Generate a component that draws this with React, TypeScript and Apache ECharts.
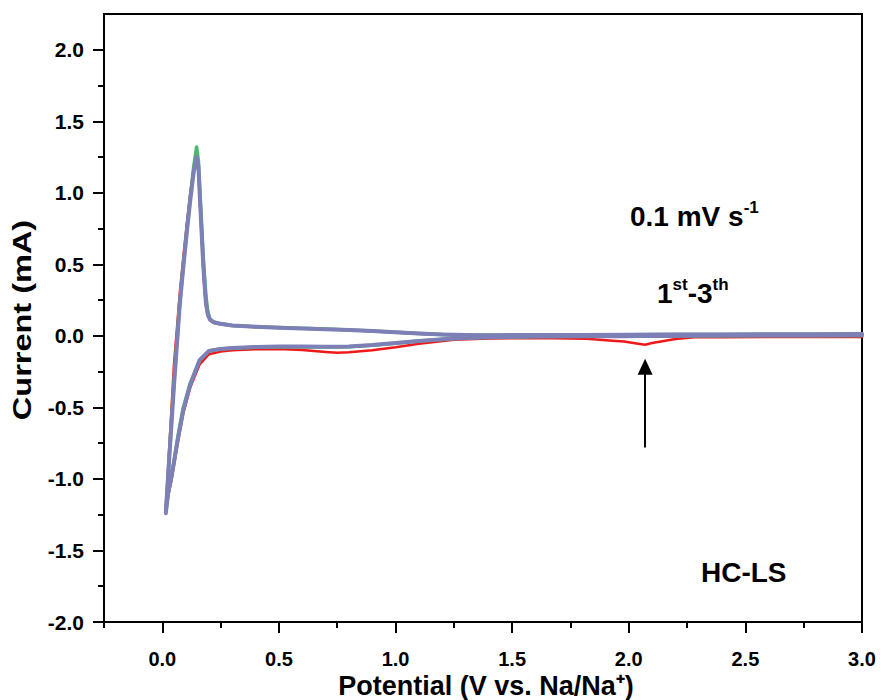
import React, { useEffect, useRef } from "react";
import * as echarts from "echarts";

// Cathodic sweep (3.0 V -> 0.01 V), potentials in V
const cathodicPotential = [
  3.0, 2.8, 2.6, 2.4, 2.28, 2.2, 2.15, 2.1, 2.07, 2.04, 1.98, 1.93, 1.82, 1.6, 1.4, 1.25, 1.1, 1.0,
  0.9, 0.8, 0.75, 0.7, 0.6, 0.5, 0.4, 0.3, 0.25, 0.2, 0.16, 0.12, 0.09, 0.067, 0.04, 0.025, 0.015,
];
// Anodic sweep (0.01 V -> 3.0 V), potentials in V
const anodicPotential = [
  0.015, 0.03, 0.05, 0.075, 0.09, 0.106, 0.12, 0.135, 0.147, 0.155, 0.161, 0.168, 0.175, 0.181,
  0.187, 0.195, 0.204, 0.22, 0.247, 0.3, 0.4, 0.5, 0.6, 0.7, 0.8, 0.9, 1.0, 1.1, 1.2, 1.3, 1.4,
  1.6, 1.8, 2.0, 2.2, 2.4, 2.6, 2.8, 3.0,
];

// Currents in mA
const cycle1Cathodic = [
  -0.008, -0.008, -0.008, -0.009, -0.01, -0.022, -0.036, -0.05, -0.062, -0.055, -0.04, -0.034,
  -0.02, -0.015, -0.018, -0.027, -0.055, -0.08, -0.1, -0.115, -0.118, -0.112, -0.098, -0.092, -0.093,
  -0.1, -0.11, -0.128, -0.2, -0.36, -0.54, -0.74, -1.0, -1.12, -1.22,
];
const cycle1Anodic = [
  -1.22, -0.78, -0.2, 0.3, 0.55, 0.8, 1.0, 1.18, 1.24, 1.14, 0.93, 0.7, 0.48, 0.33, 0.21, 0.14,
  0.11, 0.092, 0.082, 0.07, 0.062, 0.056, 0.051, 0.046, 0.04, 0.033, 0.024, 0.015, 0.008, 0.004,
  0.002, 0.001, 0.0, 0.0, 0.0, -0.001, -0.002, -0.003, -0.004,
];
const cycle2Cathodic = [
  0.003, 0.002, 0.002, 0.001, 0.001, 0.0, 0.0, -0.001, -0.001, -0.001, -0.002, -0.002, -0.003,
  -0.005, -0.01, -0.019, -0.036, -0.052, -0.066, -0.076, -0.078, -0.078, -0.077, -0.077, -0.08,
  -0.086, -0.092, -0.106, -0.17, -0.33, -0.5, -0.7, -0.98, -1.1, -1.23,
];
const cycle2Anodic = [
  -1.23, -0.83, -0.32, 0.24, 0.49, 0.75, 0.97, 1.19, 1.32, 1.22, 1.02, 0.8, 0.57, 0.42, 0.28, 0.17,
  0.12, 0.097, 0.086, 0.073, 0.064, 0.058, 0.053, 0.048, 0.042, 0.035, 0.026, 0.017, 0.01, 0.006,
  0.005, 0.006, 0.007, 0.008, 0.009, 0.01, 0.011, 0.012, 0.013,
];
const cycle3Cathodic = [
  0.004, 0.003, 0.002, 0.002, 0.001, 0.001, 0.0, 0.0, -0.001, -0.001, -0.002, -0.002, -0.003,
  -0.005, -0.01, -0.018, -0.035, -0.05, -0.064, -0.074, -0.076, -0.076, -0.075, -0.075, -0.078,
  -0.085, -0.091, -0.105, -0.17, -0.34, -0.52, -0.72, -0.98, -1.1, -1.24,
];
const cycle3Anodic = [
  -1.24, -0.85, -0.35, 0.22, 0.48, 0.74, 0.95, 1.15, 1.25, 1.18, 0.97, 0.74, 0.51, 0.36, 0.23,
  0.15, 0.115, 0.095, 0.085, 0.072, 0.063, 0.057, 0.052, 0.047, 0.041, 0.034, 0.025, 0.016, 0.009,
  0.006, 0.005, 0.006, 0.007, 0.008, 0.009, 0.01, 0.011, 0.012, 0.013,
];

const cycleNames = ["1st", "2nd", "3rd"];
const cycleColors = ["#f01818", "#4cb86a", "#7c80b6"];
const cycleWidths = [2.5, 3.5, 4];

// Axis ticks
const xMajorTicks = [0, 0.5, 1.0, 1.5, 2.0, 2.5, 3.0];
const xMinorTicks = [-0.25, 0.25, 0.75, 1.25, 1.75, 2.25, 2.75];
const yMajorTicks = [-2.0, -1.5, -1.0, -0.5, 0.0, 0.5, 1.0, 1.5, 2.0];
const yMinorTicks = [-1.75, -1.25, -0.75, -0.25, 0.25, 0.75, 1.25, 1.75];

// Arrow marking the 2.07 V reduction feature of the first cycle
const arrowPotential = 2.07;
const arrowFrom = -0.78;
const arrowTo = -0.215;

const BOLD = "'Liberation Sans', Arial, sans-serif";

function sweep(potentials: number[], currents: number[]) {
  return potentials.map((p, i) => [p, currents[i]]);
}

export default function App() {
  const ref = useRef<HTMLDivElement>(null);

  useEffect(() => {
    if (!ref.current) return;
    const chart = echarts.init(ref.current, null, { renderer: "svg" });

    const cycles = [
      [cycle1Cathodic, cycle1Anodic],
      [cycle2Cathodic, cycle2Anodic],
      [cycle3Cathodic, cycle3Anodic],
    ];

    const series: any[] = cycles.map(([cat, ano], i) => ({
      name: cycleNames[i],
      type: "line",
      xAxisIndex: 0,
      yAxisIndex: 0,
      showSymbol: false,
      symbol: "none",
      smooth: false,
      lineStyle: { color: cycleColors[i], width: cycleWidths[i], join: "round", cap: "round" },
      data: [...sweep(cathodicPotential, cat), ...sweep(anodicPotential, ano)],
      z: 2 + i,
    }));

    series[0].markLine = {
      silent: true,
      symbol: ["none", "triangle"],
      symbolSize: [15, 16],
      lineStyle: { color: "#000", width: 2, type: "solid" },
      label: { show: false },
      data: [[{ coord: [arrowPotential, arrowFrom] }, { coord: [arrowPotential, arrowTo] }]],
    };

    const axisLineStyle = { color: "#000", width: 2 };
    const supStyle = { fontSize: 17, fontWeight: "bold", fontFamily: BOLD, fill: "#000", padding: [0, 0, 17, 0] };
    const mainStyle = { fontSize: 28, fontWeight: "bold", fontFamily: BOLD, fill: "#000" };

    chart.setOption({
      animation: false,
      backgroundColor: "#fff",
      grid: {
        left: 104,
        right: 19,
        top: 14,
        bottom: 78,
        outerBoundsMode: "none",
        containLabel: false,
        show: true,
        borderColor: "#000",
        borderWidth: 2,
        backgroundColor: "transparent",
      },
      xAxis: [
        {
          type: "value",
          min: -0.25,
          max: 3.0,
          position: "bottom",
          axisLine: { show: true, onZero: false, lineStyle: axisLineStyle },
          axisTick: { show: true, customValues: xMajorTicks, length: 11, lineStyle: axisLineStyle },
          axisLabel: {
            customValues: xMajorTicks,
            formatter: (v: number) => v.toFixed(1),
            margin: 27,
            color: "#000",
            fontSize: 20,
            lineHeight: 20,
            fontWeight: "bold",
            fontFamily: BOLD,
          },
          splitLine: { show: false },
        },
        {
          type: "value",
          min: -0.25,
          max: 3.0,
          position: "bottom",
          axisLine: { show: false, onZero: false },
          axisTick: { show: true, customValues: xMinorTicks, length: 6, lineStyle: axisLineStyle },
          axisLabel: { show: false },
          splitLine: { show: false },
        },
      ],
      yAxis: [
        {
          type: "value",
          min: -2.0,
          max: 2.25,
          position: "left",
          axisLine: { show: true, onZero: false, lineStyle: axisLineStyle },
          axisTick: { show: true, customValues: yMajorTicks, length: 11, lineStyle: axisLineStyle },
          axisLabel: {
            customValues: yMajorTicks,
            formatter: (v: number) => v.toFixed(1),
            margin: 20,
            color: "#000",
            fontSize: 21,
            fontWeight: "bold",
            fontFamily: BOLD,
          },
          splitLine: { show: false },
        },
        {
          type: "value",
          min: -2.0,
          max: 2.25,
          position: "left",
          axisLine: { show: false, onZero: false },
          axisTick: { show: true, customValues: yMinorTicks, length: 6, lineStyle: axisLineStyle },
          axisLabel: { show: false },
          splitLine: { show: false },
        },
      ],
      graphic: [
        // axis titles
        {
          type: "text",
          x: 22,
          y: 320,
          rotation: Math.PI / 2,
          scaleX: 1.3,
          style: {
            text: "Current (mA)",
            align: "center",
            verticalAlign: "middle",
            fontSize: 25,
            fontWeight: "bold",
            fontFamily: BOLD,
            fill: "#000",
          },
        },
        {
          type: "text",
          x: 486,
          y: 686,
          style: {
            text: "Potential (V vs. Na/Na\u207A)",
            align: "center",
            verticalAlign: "middle",
            fontSize: 27,
            lineHeight: 27,
            fontWeight: "bold",
            fontFamily: BOLD,
            fill: "#000",
          },
        },
        // annotations
        {
          type: "text",
          x: 630,
          y: 216,
          style: {
            text: "{a|0.1 mV s}{b|-1}",
            verticalAlign: "middle",
            rich: { a: mainStyle, b: supStyle },
          },
        },
        {
          type: "text",
          x: 657,
          y: 293,
          style: {
            text: "{a|1}{b|st}{a|-3}{b|th}",
            verticalAlign: "middle",
            rich: { a: mainStyle, b: supStyle },
          },
        },
        {
          type: "text",
          x: 701,
          y: 572,
          style: {
            text: "HC-LS",
            verticalAlign: "middle",
            fontSize: 28,
            fontWeight: "bold",
            fontFamily: BOLD,
            fill: "#000",
          },
        },
      ],
      series,
    });

    return () => chart.dispose();
  }, []);

  return (
    <div
      ref={ref}
      style={{ position: "absolute", left: 0, top: 0, width: 881, height: 700, background: "#fff" }}
    />
  );
}
